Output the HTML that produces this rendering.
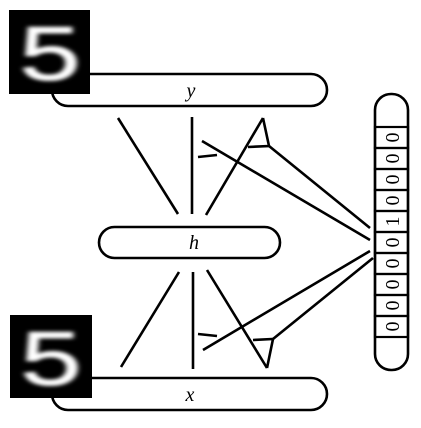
<!DOCTYPE html>
<html><head><meta charset="utf-8"><style>
html,body{margin:0;padding:0;background:#fff;width:421px;height:428px;overflow:hidden}
</style></head><body>
<svg width="421" height="428" viewBox="0 0 421 428" xmlns="http://www.w3.org/2000/svg">
<defs><filter id="bl" x="-20%" y="-20%" width="140%" height="140%"><feGaussianBlur stdDeviation="1.8"/></filter></defs>
<g stroke="#000" stroke-width="2.6" fill="none" stroke-linecap="butt">
<rect x="52" y="74" width="275" height="32" rx="16"/>
<rect x="99" y="227" width="181" height="31" rx="15.5"/>
<rect x="52" y="378" width="275" height="32" rx="16"/>
<rect x="375" y="94" width="33" height="276" rx="16"/>
<g>
<line x1="118" y1="118" x2="178" y2="214"/>
<line x1="192" y1="117" x2="192" y2="214"/>
<line x1="206" y1="215" x2="263" y2="118"/>
<polyline points="263,118 269,146 248,147"/>
<line x1="269" y1="146" x2="370" y2="228"/>
<line x1="202" y1="141" x2="370" y2="240"/>
<line x1="198" y1="157" x2="217" y2="155"/>
</g>
<g>
<line x1="121" y1="367" x2="179" y2="272"/>
<line x1="193" y1="272" x2="193" y2="369"/>
<line x1="207" y1="270" x2="267" y2="368"/>
<polyline points="267,368 273,339 253,340"/>
<line x1="273" y1="339" x2="373" y2="258"/>
<line x1="203" y1="350" x2="370" y2="251"/>
<line x1="198" y1="334" x2="217" y2="336"/>
</g>
</g>
<g id="cells"></g>
<g font-family="Liberation Serif, serif" font-style="italic" font-size="20" text-anchor="middle">
<text x="191" y="97">y</text>
<text x="194" y="249">h</text>
<text x="190" y="401">x</text>
</g>
<g>
<rect x="9" y="10" width="81" height="84" fill="#000"/>
<text transform="translate(50,80) scale(1.45,1)" fill="#fff" stroke="#fff" stroke-width="1" font-family="Liberation Sans, sans-serif" font-size="76" text-anchor="middle" filter="url(#bl)">5</text>
</g>
<g>
<rect x="10" y="315" width="82" height="83" fill="#000"/>
<text transform="translate(51,385) scale(1.45,1)" fill="#fff" stroke="#fff" stroke-width="1" font-family="Liberation Sans, sans-serif" font-size="76" text-anchor="middle" filter="url(#bl)">5</text>
</g>
</svg>
<script>
const labels=[0,0,0,0,1,0,0,0,0,0];
const g=document.getElementById('cells');
const ns='http://www.w3.org/2000/svg';
const top0=127,ch=21;
labels.forEach((v,i)=>{
 const y=top0+i*ch;
 const r=document.createElementNS(ns,'rect');
 
 
 r.setAttribute('x',375);r.setAttribute('y',y);r.setAttribute('width',33);r.setAttribute('height',ch);
 r.setAttribute('fill','none');r.setAttribute('stroke','#000');r.setAttribute('stroke-width','2.2');
 g.appendChild(r);
 const t=document.createElementNS(ns,'text');
 
 
 t.setAttribute('transform','translate(399,'+(y+ch/2)+') rotate(-90)');
 t.setAttribute('text-anchor','middle');t.setAttribute('font-family','Liberation Serif, serif');
 t.setAttribute('font-size','20');
 t.textContent=v;
 g.appendChild(t);
});
</script>
</body></html>
